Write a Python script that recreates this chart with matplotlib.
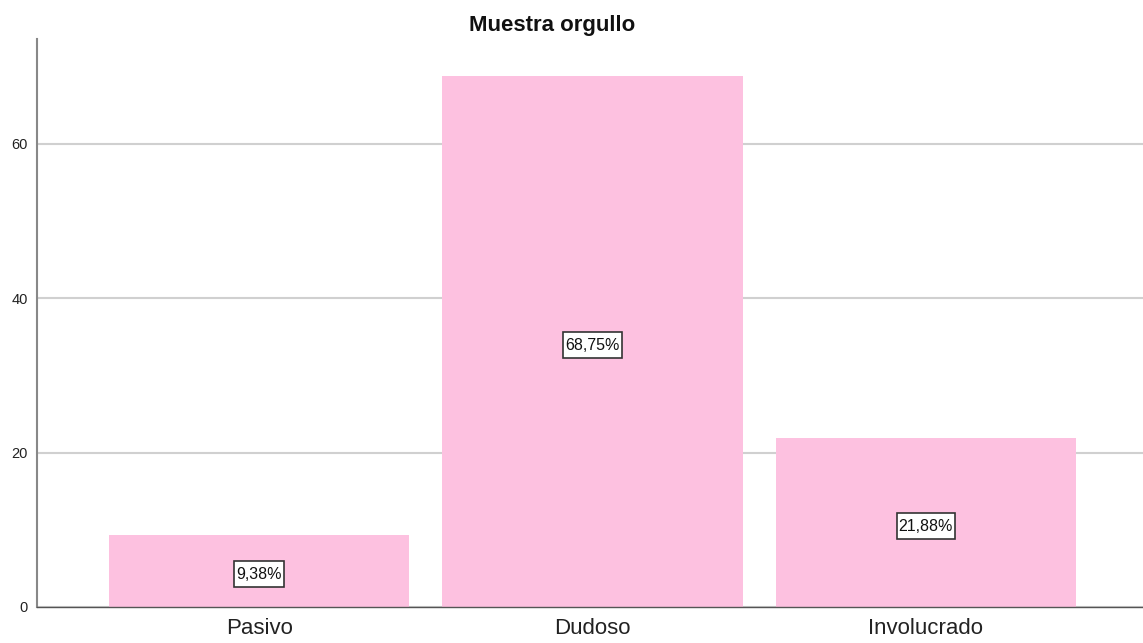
import matplotlib
matplotlib.use("Agg")
import matplotlib.pyplot as plt
from matplotlib.transforms import offset_copy
from matplotlib.path import Path

categories = ["Pasivo", "Dudoso", "Involucrado"]
values = [9.38, 68.75, 21.88]
labels = ["9,38%", "68,75%", "21,88%"]
yticks = [0, 20, 40, 60]

plt.rcParams['font.family'] = ['Liberation Sans', 'DejaVu Sans']


def label_box(x0, y0, width, height, mutation_size):
    px, py = 2.0, 5.5
    verts = [(x0 - px, y0 - py), (x0 + width + px, y0 - py),
             (x0 + width + px, y0 + height + py), (x0 - px, y0 + height + py),
             (x0 - px, y0 - py)]
    return Path(verts, closed=True)


fig = plt.figure(figsize=(11.43, 6.43), dpi=100)
ax = fig.add_axes([37/1143, 36/643, 1 - 37/1143, (607-39)/643])

x = list(range(len(categories)))
ax.bar(x, values, width=0.9, color="#fdc1e0", zorder=2)
tr = offset_copy(ax.transData, fig=fig, x=0, y=-3.5, units="dots")
for xi, v, lab in zip(x, values, labels):
    ax.text(xi, v/2, lab, ha="center", va="center", fontsize=11.5, color="#111111",
            transform=tr,
            bbox=dict(boxstyle=label_box, fc="white", ec="#333333", lw=1.2), zorder=3)

ax.set_xlim(-0.666, 2.651)
ax.set_ylim(0, 73.6)
ax.set_yticks(yticks)
ax.set_xticks(x)
ax.set_xticklabels(categories, fontsize=16, color="#222222")
ax.tick_params(axis="y", length=0, labelsize=10.5, pad=6.5, colors="#222222")
ax.tick_params(axis="x", length=0, pad=8)
ax.yaxis.grid(True, color="#d0d0d0", lw=1.5, zorder=0)
ax.set_axisbelow(True)
for s in ["top", "right"]:
    ax.spines[s].set_visible(False)
ax.spines["left"].set_color("#888888")
ax.spines["left"].set_linewidth(1.5)
ax.spines["bottom"].set_color("#555555")
ax.spines["bottom"].set_linewidth(1)
fig.text(552.5/1143, 1 - 31/643, "Muestra orgullo", ha="center", va="baseline",
         fontsize=16, fontweight="bold", color="#111111")

fig.savefig("out.png", dpi=100, facecolor="white")
